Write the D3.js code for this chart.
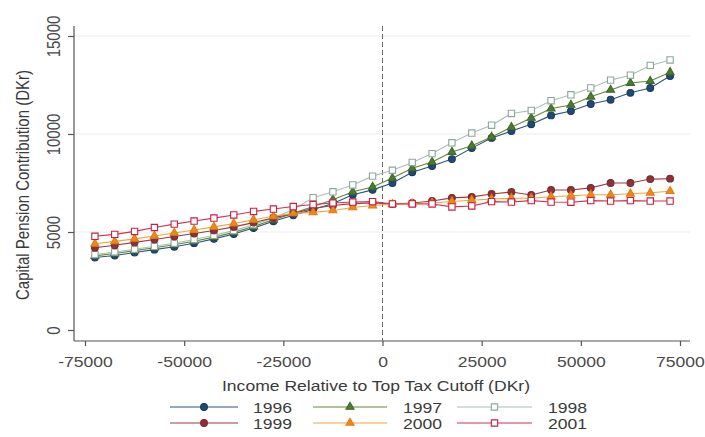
<!DOCTYPE html>
<html>
<head>
<meta charset="utf-8">
<script src="https://cdn.jsdelivr.net/npm/d3@7"></script>
<style>
  html, body { margin: 0; padding: 0; background: #ffffff; }
  svg { display: block; }
  text { font-family: "Liberation Sans", Arial, sans-serif; fill: #3a3a3a; }
</style>
</head>
<body>
<svg id="chart" width="705" height="437"></svg>
<script>
// Income bins (DKr relative to the top tax cutoff), bin midpoints
const incomeBins = [-72500, -67500, -62500, -57500, -52500, -47500, -42500, -37500, -32500, -27500,
  -22500, -17500, -12500, -7500, -2500, 2500, 7500, 12500, 17500, 22500,
  27500, 32500, 37500, 42500, 47500, 52500, 57500, 62500, 67500, 72500];

// Mean capital pension contribution (DKr) per bin, by year
const pension1996 = [3700, 3800, 3950, 4100, 4250, 4430, 4650, 4900, 5200, 5550,
  5850, 6150, 6450, 6900, 7150, 7500, 8050, 8370, 8720, 9280,
  9800, 10150, 10500, 10950, 11170, 11530, 11750, 12100, 12350, 12960];
const pension1997 = [3780, 3900, 4050, 4200, 4350, 4530, 4740, 4980, 5280, 5620,
  5950, 6300, 6650, 7050, 7300, 7750, 8250, 8570, 9080, 9400,
  9850, 10350, 10820, 11300, 11480, 11900, 12250, 12600, 12700, 13150];
const pension1998 = [3850, 3980, 4120, 4270, 4430, 4620, 4830, 5070, 5370, 5720,
  6150, 6750, 7050, 7400, 7850, 8150, 8550, 9000, 9550, 10050,
  10450, 11050, 11200, 11700, 12000, 12350, 12750, 13000, 13500, 13780];
const pension1999 = [4200, 4320, 4470, 4620, 4770, 4920, 5080, 5260, 5480, 5720,
  5950, 6200, 6350, 6450, 6480, 6430, 6480, 6580, 6740, 6790,
  6940, 7040, 6890, 7140, 7140, 7250, 7500, 7500, 7700, 7720];
const pension2000 = [4400, 4520, 4650, 4800, 4950, 5100, 5260, 5430, 5620, 5800,
  5950, 6000, 6100, 6250, 6350, 6420, 6450, 6480, 6560, 6620,
  6680, 6720, 6720, 6800, 6850, 6900, 6900, 6950, 7000, 7080];
const pension2001 = [4780, 4880, 5030, 5230, 5400, 5560, 5710, 5870, 6050, 6170,
  6300, 6400, 6480, 6530, 6550, 6430, 6430, 6430, 6280, 6330,
  6550, 6530, 6600, 6530, 6520, 6600, 6580, 6600, 6580, 6580];

const years = ["1996", "1997", "1998", "1999", "2000", "2001"];
const xTicks = [-75000, -50000, -25000, 0, 25000, 50000, 75000];
const yTicks = [0, 5000, 10000, 15000];

const xTitle = "Income Relative to Top Tax Cutoff (DKr)";
const yTitle = "Capital Pension Contribution (DKr)";

// Per-year marker and colour styling
const styles = {
  "1996": { line: "#2a5580", stroke: "#1a3a60", fill: "#1f4a75", shape: d3.symbolCircle, size: 36 },
  "1997": { line: "#5f8a3a", stroke: "#3f6a25", fill: "#4f7a30", shape: d3.symbolTriangle, size: 28 },
  "1998": { line: "#a9bfb6", stroke: "#8ea69c", fill: "#ffffff", shape: d3.symbolSquare, size: 40 },
  "1999": { line: "#9a3a40", stroke: "#7a2a30", fill: "#8e3238", shape: d3.symbolCircle, size: 36 },
  "2000": { line: "#f0a340", stroke: "#e07e10", fill: "#ea8a1a", shape: d3.symbolTriangle, size: 28 },
  "2001": { line: "#d0304f", stroke: "#c81e44", fill: "#ffffff", shape: d3.symbolSquare, size: 40 }
};

const seriesByYear = {
  "1996": pension1996, "1997": pension1997, "1998": pension1998,
  "1999": pension1999, "2000": pension2000, "2001": pension2001
};

const svg = d3.select("#chart");
const stretch = 1.17; // horizontal text stretch

const plot = { left: 74, right: 690, top: 26, bottom: 341 };

const x = d3.scaleLinear().domain([-75000, 75000]).range([85, 680]);
const y = d3.scaleLinear().domain([0, 15000]).range([330, 36]);

// Horizontal grid lines
svg.append("g")
  .selectAll("line")
  .data(yTicks.filter(d => d > 0))
  .join("line")
  .attr("x1", plot.left).attr("x2", plot.right)
  .attr("y1", d => y(d)).attr("y2", d => y(d))
  .attr("stroke", "#ececec").attr("stroke-width", 1);

// Y axis
const yAxis = d3.axisLeft(y).tickValues(yTicks).tickSize(6).tickFormat("");
const gy = svg.append("g").attr("transform", `translate(${plot.left},0)`).call(yAxis);
gy.select(".domain").attr("d", `M0,${plot.top}V${plot.bottom}`);
gy.selectAll("path,line").attr("stroke", "#555").attr("stroke-width", 1.2);
gy.selectAll(".tick")
  .append("text")
  .attr("transform", `translate(-14,0) scale(${stretch},1) rotate(-90)`)
  .attr("text-anchor", "middle")
  .attr("font-size", 15)
  .style("fill", "#4a4a4a")
  .text(d => d);

// X axis
const xAxis = d3.axisBottom(x).tickValues(xTicks).tickSize(5).tickFormat("");
const gx = svg.append("g").attr("transform", `translate(0,${plot.bottom})`).call(xAxis);
gx.select(".domain").attr("d", `M${plot.left},0H${plot.right}`);
gx.selectAll("path,line").attr("stroke", "#555").attr("stroke-width", 1.2);
gx.selectAll(".tick")
  .append("text")
  .attr("transform", `translate(0,26) scale(${stretch},1)`)
  .attr("text-anchor", "middle")
  .attr("font-size", 15)
  .style("fill", "#4a4a4a")
  .text(d => d);

// Dashed reference line at the cutoff
svg.append("line")
  .attr("x1", x(0)).attr("x2", x(0))
  .attr("y1", plot.top).attr("y2", plot.bottom)
  .attr("stroke", "#666").attr("stroke-width", 1)
  .attr("stroke-dasharray", "5,3");

// Series lines and markers
const line = d3.line().x((d, i) => x(incomeBins[i])).y(d => y(d));
const seriesG = svg.append("g");
years.forEach(yr => {
  const st = styles[yr];
  const vals = seriesByYear[yr];
  seriesG.append("path")
    .datum(vals)
    .attr("d", line)
    .attr("fill", "none")
    .attr("stroke", st.line)
    .attr("stroke-width", 1.1);
  seriesG.append("g")
    .selectAll("path")
    .data(vals)
    .join("path")
    .attr("transform", (d, i) => `translate(${x(incomeBins[i])},${y(d)})`)
    .attr("d", d3.symbol().type(st.shape).size(st.size))
    .attr("fill", st.fill)
    .attr("stroke", st.stroke)
    .attr("stroke-width", 1.1);
});

// Axis titles
svg.append("text")
  .attr("transform", `translate(29,185) scale(${stretch},1) rotate(-90)`)
  .attr("text-anchor", "middle")
  .attr("font-size", 15)
  .text(yTitle);

svg.append("text")
  .attr("transform", `translate(376,391) scale(${stretch},1)`)
  .attr("text-anchor", "middle")
  .attr("font-size", 15)
  .text(xTitle);

// Legend: two rows of three
const legendCols = [{ x0: 170, x1: 238, tx: 253 }, { x0: 313, x1: 387, tx: 403 }, { x0: 457, x1: 532, tx: 548 }];
const legendRows = [407, 423];
const legend = svg.append("g");
years.forEach((yr, i) => {
  const st = styles[yr];
  const c = legendCols[i % 3];
  const ry = legendRows[Math.floor(i / 3)];
  legend.append("line")
    .attr("x1", c.x0).attr("x2", c.x1)
    .attr("y1", ry).attr("y2", ry)
    .attr("stroke", st.line).attr("stroke-width", 1.2);
  legend.append("path")
    .attr("transform", `translate(${(c.x0 + c.x1) / 2},${ry})`)
    .attr("d", d3.symbol().type(st.shape).size(st.size))
    .attr("fill", st.fill)
    .attr("stroke", st.stroke)
    .attr("stroke-width", 1.1);
  legend.append("text")
    .attr("transform", `translate(${c.tx},${ry + 6}) scale(${stretch},1)`)
    .attr("font-size", 15)
    .text(yr);
});
</script>
</body>
</html>
